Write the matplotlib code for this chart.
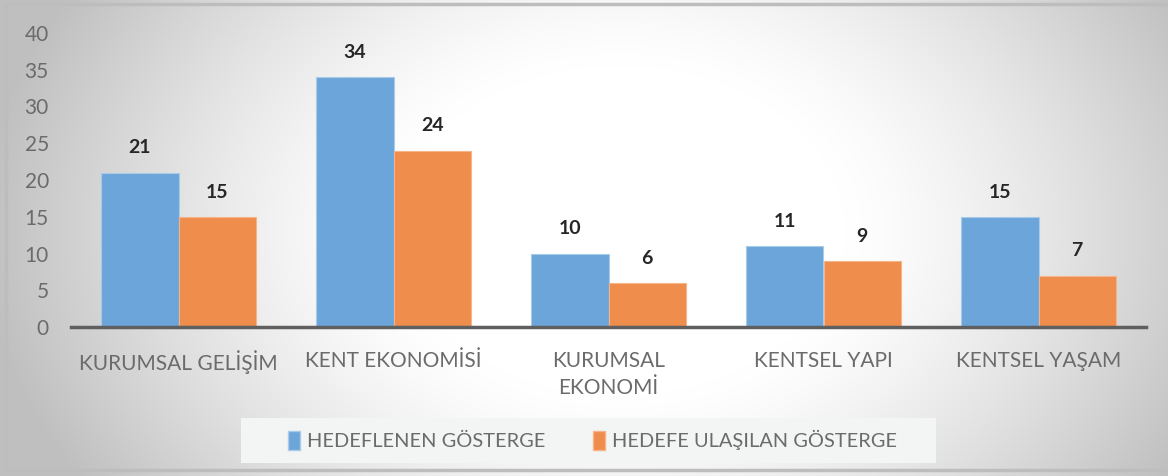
import numpy as np
import matplotlib.pyplot as plt
from matplotlib.patches import Rectangle, Patch

plt.rcParams['font.family'] = ['Lato', 'DejaVu Sans']

categories = ['KURUMSAL GELİŞİM', 'KENT EKONOMİSİ', 'KURUMSAL\nEKONOMİ',
              'KENTSEL YAPI', 'KENTSEL YAŞAM']
hedeflenen = [21, 34, 10, 11, 15]
ulasilan = [15, 24, 6, 9, 7]
series_names = ['HEDEFLENEN GÖSTERGE', 'HEDEFE ULAŞILAN GÖSTERGE']
yticks = [0, 5, 10, 15, 20, 25, 30, 35, 40]

blue = '#6CA5DA'
orange = '#EE8D4C'

W, H = 1168, 476
fig = plt.figure(figsize=(W / 100, H / 100), dpi=100)

# radial grey background, white in the middle
bg = fig.add_axes([0, 0, 1, 1])
yy, xx = np.mgrid[0:H, 0:W]
d = np.sqrt(((xx - 620) / 640.0) ** 2 + ((yy - 230) / 470.0) ** 2)
t = np.clip((d - 0.35) / 0.65, 0, 1) ** 1.3
shade = (255 - 64 * t) / 255.0
bg.imshow(np.dstack([shade] * 3), extent=[0, W, H, 0], aspect='auto')
bg.add_patch(Rectangle((6, 4), W, H - 10, fill=False, edgecolor='#bdbdbd', lw=2.5))
bg.add_patch(Rectangle((241, 418), 695, 45, facecolor='#f3f5f5', edgecolor='none'))
bg.set_xlim(0, W)
bg.set_ylim(H, 0)
bg.axis('off')

ax = fig.add_axes([71 / W, (H - 327) / H, 1075 / W, 294 / H])
ax.patch.set_alpha(0)
x = np.arange(len(categories))
w = 0.36
b1 = ax.bar(x - w / 2, hedeflenen, w, color=blue, edgecolor='#a9cbea', lw=0.8)
b2 = ax.bar(x + w / 2, ulasilan, w, color=orange, edgecolor='#f5b48a', lw=0.8)

for bars, vals in [(b1, hedeflenen), (b2, ulasilan)]:
    for bar, v in zip(bars, vals):
        ax.text(bar.get_x() + bar.get_width() / 2, v + 2.2, str(v),
                ha='center', va='bottom', fontsize=14, fontweight='bold',
                color='#262626')

ax.set_xlim(-0.5, len(categories) - 0.5)
ax.set_ylim(0, 40)
ax.set_yticks(yticks)
ax.set_xticks(x)
ax.set_xticklabels(categories, linespacing=1.45)
ax.tick_params(axis='y', length=0, pad=16, labelsize=15, labelcolor='#6b6b6b')
ax.tick_params(axis='x', length=0, pad=17, labelsize=15, labelcolor='#6b6b6b')
for s in ['top', 'right', 'left']:
    ax.spines[s].set_visible(False)
ax.spines['bottom'].set_color('#5f5f5f')
ax.spines['bottom'].set_linewidth(2.5)

handles = [Patch(facecolor=blue, edgecolor='#a9cbea'),
           Patch(facecolor=orange, edgecolor='#f5b48a')]
fig.legend(handles, series_names, loc='center left',
           bbox_to_anchor=(270 / W, (H - 440) / H), ncol=2, frameon=False,
           fontsize=14.4, labelcolor='#6b6b6b', handlelength=0.6,
           handleheight=1.1, handletextpad=0.35, columnspacing=2.4)

fig.savefig('out.png', dpi=100)
